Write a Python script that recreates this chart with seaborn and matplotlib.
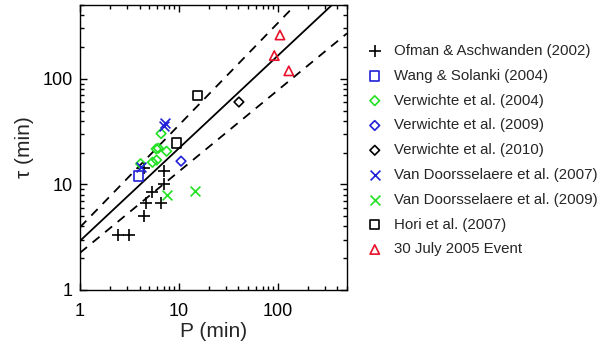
import numpy as np
import pandas as pd
import matplotlib
matplotlib.use("Agg")
import matplotlib.pyplot as plt
from matplotlib.ticker import FixedLocator, NullFormatter
import seaborn as sns

sns.set_theme(style="ticks")
plt.rcParams['font.family'] = ['Liberation Sans', 'DejaVu Sans']

# ---- data ----
ofman_P = [2.4, 3.1, 4.4, 4.6, 5.3, 6.6, 7.1, 7.0, 4.4]
ofman_tau = [3.3, 3.3, 5.0, 6.6, 8.4, 6.6, 10.0, 13.3, 14.2]

wang_P = [3.9]
wang_tau = [12.0]

verw04_P = [6.6, 5.9, 6.2, 7.5, 5.4, 5.95, 4.1]
verw04_tau = [30.3, 21.7, 22.0, 20.6, 16.2, 17.0, 15.7]

verw09_P = [10.5]
verw09_tau = [16.6]

verw10_P = [40.4]
verw10_tau = [60.3]

vd07_P = [7.0, 7.2, 4.1]
vd07_tau = [36.0, 38.5, 14.6]

vd09_P = [7.5, 14.7]
vd09_tau = [7.9, 8.6]

hori_P = [9.5, 15.3]
hori_tau = [24.7, 69.6]

event_P = [105.0, 92.0, 129.0]
event_tau = [260.0, 166.0, 119.0]

# power-law fits tau = a * P**b (best fit and bounds)
fit_a, fit_b = 2.92, 0.877
upper_a, upper_b = 3.93, 0.967
lower_a, lower_b = 2.25, 0.77
line_P = np.array([1.0, 500.0])

labels = ["Ofman & Aschwanden (2002)", "Wang & Solanki (2004)",
          "Verwichte et al. (2004)", "Verwichte et al. (2009)",
          "Verwichte et al. (2010)", "Van Doorsselaere et al. (2007)",
          "Van Doorsselaere et al. (2009)", "Hori et al. (2007)",
          "30 July 2005 Event"]

major_ticks = [1, 10, 100]
minor_ticks = [k * 10.0**d for d in range(3) for k in range(2, 10)]

BLACK = "#000000"
BLUE = "#2020d8"
GREEN = "#22e022"
RED = "#e8102a"

fig = plt.figure(figsize=(6, 3.5), dpi=100)
ax = fig.add_axes([80/600, 60/350, 267/600, 285/350])
ax.set_xscale("log")
ax.set_yscale("log")

# lines
sns.lineplot(x=line_P, y=fit_a * line_P**fit_b, ax=ax, color="black", lw=1.3)
sns.lineplot(x=line_P, y=upper_a * line_P**upper_b, ax=ax, color="black", lw=1.3,
             linestyle=(0, (5, 4)))
sns.lineplot(x=line_P, y=lower_a * line_P**lower_b, ax=ax, color="black", lw=1.3,
             linestyle=(0, (5, 4)))

series = [
    (ofman_P, ofman_tau, "+", BLACK, 70, False),
    (wang_P, wang_tau, "s", BLUE, 45, True),
    (verw04_P, verw04_tau, "D", GREEN, 24, True),
    (verw09_P, verw09_tau, "D", BLUE, 24, True),
    (verw10_P, verw10_tau, "D", BLACK, 24, True),
    (vd07_P, vd07_tau, "x", BLUE, 50, False),
    (vd09_P, vd09_tau, "x", GREEN, 50, False),
    (hori_P, hori_tau, "s", BLACK, 45, True),
    (event_P, event_tau, "^", RED, 45, True),
]

for (P, tau, m, c, s, is_open), lab in zip(series, labels):
    if is_open:
        sns.scatterplot(x=P, y=tau, ax=ax, marker=m, s=s,
                        facecolor="none", edgecolor=c, linewidth=1.2,
                        label=lab, zorder=3)
    else:
        sns.scatterplot(x=P, y=tau, ax=ax, marker=m, s=s, color=c,
                        linewidth=1.2, label=lab, zorder=3)

ax.set_xlim(1, 500)
ax.set_ylim(1, 500)
for axis in (ax.xaxis, ax.yaxis):
    axis.set_major_locator(FixedLocator(major_ticks))
    axis.set_minor_locator(FixedLocator(minor_ticks))
    axis.set_minor_formatter(NullFormatter())
ax.set_xticklabels([str(t) for t in major_ticks])
ax.set_yticklabels([str(t) for t in major_ticks])
ax.tick_params(which="both", direction="in", top=True, right=True,
               bottom=True, left=True, colors="black", width=1.0)
ax.tick_params(which="major", length=5)
ax.tick_params(which="minor", length=3)
ax.tick_params(axis="x", which="major", labelsize=13, pad=9)
ax.tick_params(axis="y", which="major", labelsize=13, pad=5)
for sp in ax.spines.values():
    sp.set_color("black")
    sp.set_linewidth(1.0)
    sp.set_zorder(5)

ax.set_xlabel("P (min)", fontsize=15, labelpad=2)
ax.set_ylabel("τ (min)", fontsize=15, labelpad=6)

leg = ax.legend(loc="upper left", bbox_to_anchor=(368/600, 1 - 44/350),
                bbox_transform=fig.transFigure, frameon=False, fontsize=10.8,
                scatterpoints=1, handlelength=0.9, handletextpad=0.8,
                labelspacing=0.72, borderaxespad=0, borderpad=0)

fig.savefig("out.png", dpi=100)
